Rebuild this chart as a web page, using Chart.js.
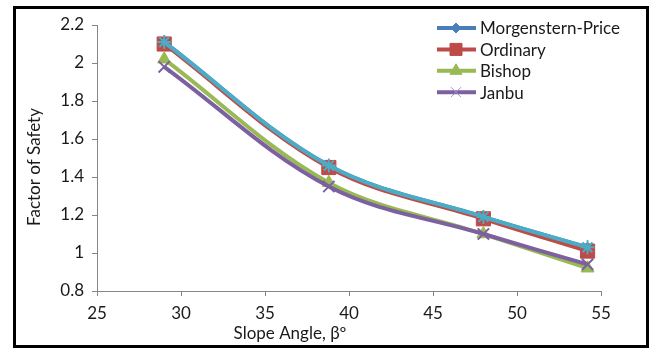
<!DOCTYPE html>
<html>
<head>
<meta charset="utf-8">
<script src="https://cdn.jsdelivr.net/npm/chart.js@4/dist/chart.umd.min.js"></script>
<style>
  html, body { margin: 0; padding: 0; background: #fff; }
  #wrap { position: relative; width: 650px; height: 349px; }
  #frame {
    position: absolute; left: 13px; top: 6px; width: 636px; height: 342px;
    box-sizing: border-box; border: 3px solid #000; pointer-events: none;
  }
</style>
</head>
<body>
<div id="wrap">
  <canvas id="fosChart" width="650" height="349"></canvas>
  <div id="frame"></div>
</div>
<script>
// slope angle (deg) of each analysed section
const angles = [29, 38.8, 48, 54.2];

// factor of safety per method
const morgensternPrice = [2.11, 1.46, 1.19, 1.03];
const ordinary = [2.10, 1.45, 1.18, 1.01];
const bishop = [2.02, 1.37, 1.10, 0.92];
const janbu = [1.98, 1.35, 1.10, 0.94];
const spencer = [2.11, 1.46, 1.19, 1.03];

const xTicks = [25, 30, 35, 40, 45, 50, 55];
const yTicks = [0.8, 1, 1.2, 1.4, 1.6, 1.8, 2, 2.2];

const FONT = 'Lato, "Liberation Sans", sans-serif';
const TEXT = '#1a1a1a';

function pts(values) {
  return angles.map((a, i) => ({ x: a, y: values[i] }));
}

function series(label, values, color, style, radius, order, legendRadius) {
  return {
    label: label,
    data: pts(values),
    borderColor: color,
    backgroundColor: color,
    borderWidth: 4,
    pointStyle: style,
    pointRadius: radius,
    pointBorderWidth: (style === 'crossRot' || style === 'star') ? 2 : 1,
    pointBackgroundColor: color,
    pointBorderColor: color,
    tension: 0.35,
    order: order,
    legendRadius: legendRadius
  };
}

// legend: line sample with marker, text to the right
const lineLegend = {
  id: 'lineLegend',
  afterDraw(chart) {
    const ctx = chart.ctx;
    let row = 0;
    chart.data.datasets.forEach(ds => {
      if (!ds.legendRadius) return;
      const y = 28 + row * 21.4;
      ctx.save();
      ctx.strokeStyle = ds.borderColor;
      ctx.lineWidth = 4;
      ctx.beginPath();
      ctx.moveTo(437, y);
      ctx.lineTo(476, y);
      ctx.stroke();
      ctx.fillStyle = ds.borderColor;
      ctx.strokeStyle = ds.pointStyle === 'crossRot' ? '#A08CC0' : ds.borderColor;
      ctx.lineWidth = 1;
      Chart.helpers.drawPoint(ctx, {
        pointStyle: ds.pointStyle, rotation: 0,
        radius: ds.legendRadius, borderWidth: 1
      }, 456, y);
      ctx.fillStyle = TEXT;
      ctx.font = '17px ' + FONT;
      ctx.textAlign = 'left';
      ctx.textBaseline = 'middle';
      ctx.fillText(ds.label, 480, y + 1);
      ctx.restore();
      row++;
    });
  }
};

// axis titles
const axisTitles = {
  id: 'axisTitles',
  afterDraw(chart) {
    const ctx = chart.ctx;
    ctx.save();
    ctx.fillStyle = TEXT;
    ctx.font = '17px ' + FONT;
    ctx.textAlign = 'center';
    ctx.textBaseline = 'middle';
    ctx.fillText('Slope Angle, βº', 290, 334);
    ctx.translate(35, 167);
    ctx.rotate(-Math.PI / 2);
    ctx.fillText('Factor of Safety', 0, 0);
    ctx.restore();
  }
};

const axisColor = '#868686';

new Chart(document.getElementById('fosChart'), {
  type: 'line',
  data: {
    datasets: [
      series('Morgenstern-Price', morgensternPrice, '#4A7EBB', 'rectRot', 5, 5, 5),
      series('Ordinary', ordinary, '#BE4B48', 'rect', 10, 4, 8.5),
      series('Bishop', bishop, '#98B954', 'triangle', 7.5, 3, 7),
      series('Janbu', janbu, '#7D60A0', 'crossRot', 8, 2, 7),
      series('Spencer', spencer, '#4BACC6', 'star', 7, 1, 0)
    ]
  },
  options: {
    responsive: false,
    animation: false,
    layout: { padding: { left: 0, top: 25, right: 49, bottom: 0 } },
    plugins: {
      legend: { display: false },
      tooltip: { enabled: false }
    },
    scales: {
      x: {
        type: 'linear',
        min: 25,
        max: 55,
        afterBuildTicks: s => { s.ticks = xTicks.map(v => ({ value: v })); },
        afterFit: s => { s.height = 58; },
        grid: { display: true, drawOnChartArea: false, drawTicks: true, tickLength: 5, color: axisColor },
        border: { display: true, color: axisColor, width: 1 },
        ticks: { color: TEXT, font: { family: FONT, size: 17 }, padding: 7, maxRotation: 0 }
      },
      y: {
        min: 0.8,
        max: 2.2,
        afterBuildTicks: s => { s.ticks = yTicks.map(v => ({ value: v })); },
        afterFit: s => { s.width = 97; },
        grid: { display: true, drawOnChartArea: false, drawTicks: true, tickLength: 5, color: axisColor },
        border: { display: true, color: axisColor, width: 1 },
        ticks: {
          color: TEXT, font: { family: FONT, size: 17 }, padding: 8,
          callback: v => String(Number(v.toFixed(1)))
        }
      }
    }
  },
  plugins: [lineLegend, axisTitles]
});
</script>
</body>
</html>
